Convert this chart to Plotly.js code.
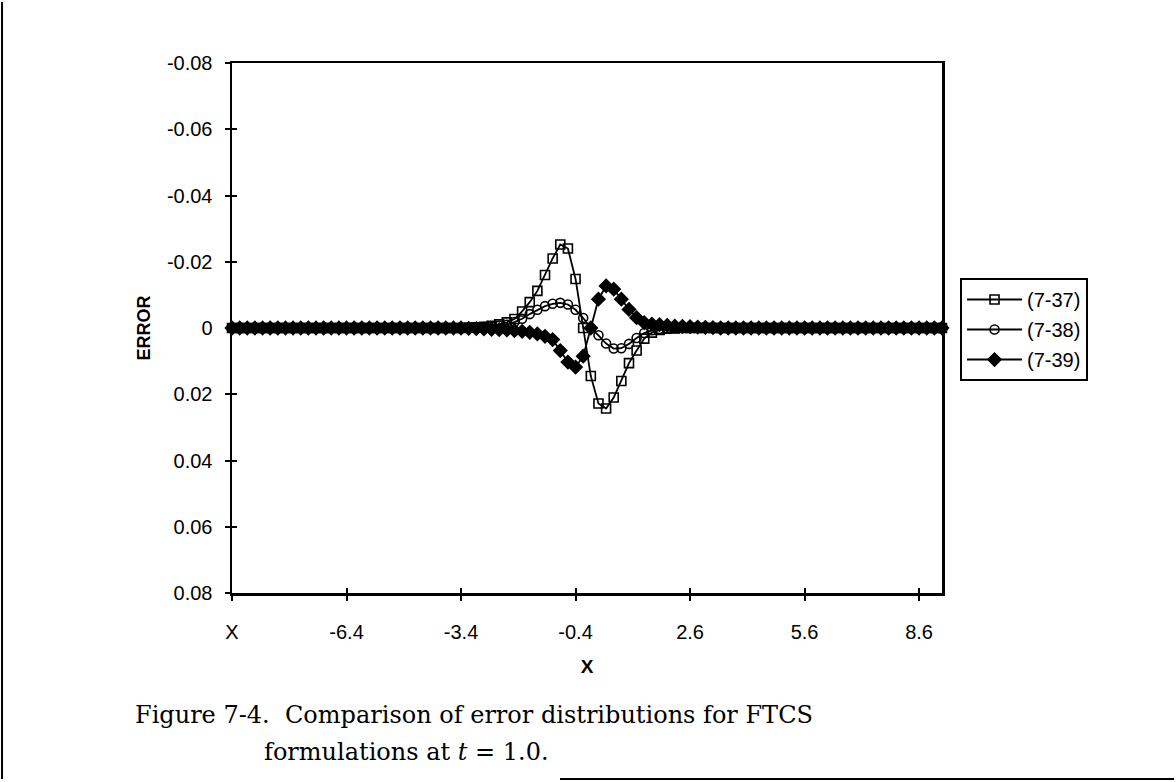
<!DOCTYPE html>
<html>
<head>
<meta charset="utf-8">
<script src="https://cdn.plot.ly/plotly-3.0.1.min.js"></script>
<style>html,body{margin:0;padding:0;background:#fff;}#chart{width:1176px;height:782px;}</style>
</head>
<body>
<div id="chart"></div>
<script>
// Category positions (first category is labelled "X")
const xVals = [-9.4,-9.2,-9.0,-8.8,-8.6,-8.4,-8.2,-8.0,-7.8,-7.6,-7.4,-7.2,-7.0,-6.8,-6.6,-6.4,-6.2,-6.0,-5.8,-5.6,
  -5.4,-5.2,-5.0,-4.8,-4.6,-4.4,-4.2,-4.0,-3.8,-3.6,-3.4,-3.2,-3.0,-2.8,-2.6,-2.4,-2.2,-2.0,-1.8,-1.6,
  -1.4,-1.2,-1.0,-0.8,-0.6,-0.4,-0.2,0.0,0.2,0.4,0.6,0.8,1.0,1.2,1.4,1.6,1.8,2.0,2.2,2.4,
  2.6,2.8,3.0,3.2,3.4,3.6,3.8,4.0,4.2,4.4,4.6,4.8,5.0,5.2,5.4,5.6,5.8,6.0,6.2,6.4,
  6.6,6.8,7.0,7.2,7.4,7.6,7.8,8.0,8.2,8.4,8.6,8.8,9.0,9.2];

const seriesNames = ["(7-37)", "(7-38)", "(7-39)"];

// (7-37)
const err737 = [0,0,0,0,0,0,0,0,0,0,0,0,0,0,0,0,0,0,0,0,
  0,0,0,0,0,0,0,0,0,0,0,-0.0001,-0.0002,-0.0004,-0.0007,-0.0011,-0.0017,-0.0027,-0.0050,-0.0078,
  -0.0112,-0.0160,-0.0210,-0.0252,-0.0240,-0.0148,0.0000,0.0145,0.0228,0.0243,0.0210,0.0160,0.0106,0.0068,0.0032,0.0014,0.0006,0.0002,0.0001,0,
  0,0,0,0,0,0,0,0,0,0,0,0,0,0,0,0,0,0,0,0,
  0,0,0,0,0,0,0,0,0,0,0,0,0,0];

// (7-38)
const err738 = [0,0,0,0,0,0,0,0,0,0,0,0,0,0,0,0,0,0,0,0,
  0,0,0,0,0,0,0,0,0,0,0,0,0,-0.0002,-0.0004,-0.0007,-0.0010,-0.0018,-0.0028,-0.0042,
  -0.0055,-0.0066,-0.0073,-0.0076,-0.0071,-0.0055,-0.0030,0.0000,0.0022,0.0047,0.0062,0.0061,0.0048,0.0030,0.0015,0.0007,0.0003,0.0001,0,0,
  0,0,0,0,0,0,0,0,0,0,0,0,0,0,0,0,0,0,0,0,
  0,0,0,0,0,0,0,0,0,0,0,0,0,0];

// (7-39)
const err739 = [0,0,0,0,0,0,0,0,0,0,0,0,0,0,0,0,0,0,0,0,
  0,0,0,0,0,0,0,0,0,0,0,0.0001,0.0002,0.0003,0.0004,0.0005,0.0006,0.0008,0.0010,0.0013,
  0.0018,0.0025,0.0035,0.0068,0.0103,0.0118,0.0085,0.0000,-0.0087,-0.0127,-0.0117,-0.0087,-0.0056,-0.0031,-0.0016,-0.0012,-0.0010,-0.0008,-0.0006,-0.0005,
  -0.0004,-0.0003,-0.0002,-0.0001,0,0,0,0,0,0,0,0,0,0,0,0,0,0,0,0,
  0,0,0,0,0,0,0,0,0,0,0,0,0,0];

const xTickVals = [-9.4,-6.4,-3.4,-0.4,2.6,5.6,8.6];
const xTickText = ["X","-6.4","-3.4","-0.4","2.6","5.6","8.6"];
const yTickVals = [-0.08,-0.06,-0.04,-0.02,0,0.02,0.04,0.06,0.08];
const yTickText = ["-0.08","-0.06","-0.04","-0.02","0","0.02","0.04","0.06","0.08"];

const sans = "Liberation Sans, Arial, sans-serif";
const serif = "DejaVu Serif, Liberation Serif, serif";

const mk = (y, name, symbol, size, group) => ({
  x: xVals, y: y, name: name, type: "scatter", mode: "lines+markers",
  legendgroup: group,
  line: {color: "#000", width: 1.8},
  marker: {symbol: symbol, size: size, color: "#000", line: {color: "#000", width: 1.6}},
  xaxis: "x", yaxis: "y", cliponaxis: false
});

const traces = [
  mk(err737, seriesNames[0], "square-open", 9, "a"),
  mk(err738, seriesNames[1], "circle-open", 9, "b"),
  mk(err739, seriesNames[2], "diamond", 10, "c"),
  {x: [], y: [], xaxis: "x2", yaxis: "y2", showlegend: false, type: "scatter", mode: "markers"}
];

const axCommon = {
  showgrid: false, zeroline: false, showline: true, linecolor: "#000", linewidth: 2.5,
  ticks: "outside", ticklen: 5, tickwidth: 2, tickcolor: "#000",
  tickfont: {family: sans, size: 20, color: "#000"}
};

const layout = {
  width: 1176, height: 782,
  paper_bgcolor: "#fff", plot_bgcolor: "#fff",
  margin: {l: 232, r: 234, t: 63, b: 189},
  showlegend: true,
  legend: {
    x: 1.0254, y: 0.5943, xanchor: "left", yanchor: "top",
    bordercolor: "#000", borderwidth: 2, bgcolor: "#fff",
    font: {family: sans, size: 20, color: "#000"},
    itemwidth: 55, traceorder: "grouped", tracegroupgap: 1
  },
  xaxis: Object.assign({}, axCommon, {
    range: [-9.4, 9.2], autorange: false, mirror: true,
    tickmode: "array", tickvals: xTickVals, ticktext: xTickText,
    ticklabelstandoff: 14,
    title: {text: "<b>X</b>", font: {family: sans, size: 19, color: "#000"}, standoff: 18}
  }),
  yaxis: Object.assign({}, axCommon, {
    range: [0.08, -0.08], autorange: false, mirror: true,
    tickmode: "array", tickvals: yTickVals, ticktext: yTickText,
    ticklabelstandoff: 8,
    title: {text: "<b>ERROR</b>", font: {family: sans, size: 18, color: "#000"}, standoff: 12}
  }),
  xaxis2: {
    overlaying: "x", anchor: "y2", range: [-9.4, 9.2], autorange: false,
    showgrid: false, zeroline: false, showline: false, showticklabels: false,
    ticks: "inside", ticklen: 5, tickwidth: 2, tickcolor: "#000",
    tickmode: "array", tickvals: xTickVals
  },
  yaxis2: {
    overlaying: "y", anchor: "x2", range: [0.08, -0.08], autorange: false,
    showgrid: false, zeroline: false, showline: false, showticklabels: false,
    ticks: "inside", ticklen: 5, tickwidth: 2, tickcolor: "#000",
    tickmode: "array", tickvals: yTickVals
  },
  annotations: [
    {xref: "paper", yref: "paper", x: -0.1394, y: -0.2302, xanchor: "left", yanchor: "middle",
     showarrow: false, text: "Figure 7-4.  Comparison of error distributions for FTCS",
     font: {family: serif, size: 24, color: "#000"}},
    {xref: "paper", yref: "paper", x: 0.04225, y: -0.30, xanchor: "left", yanchor: "middle",
     showarrow: false, text: "formulations at <i>t</i> = 1.0.",
     font: {family: serif, size: 24, color: "#000"}}
  ],
  shapes: [
    {type: "line", xref: "paper", yref: "paper", x0: -0.3239, x1: -0.3239, y0: 1.1151, y1: -0.3509, line: {color: "#000", width: 2}},
    {type: "line", xref: "paper", yref: "paper", x0: 0.462, x1: 1.3268, y0: -0.3509, y1: -0.3509, line: {color: "#000", width: 2}}
  ]
};

Plotly.newPlot("chart", traces, layout, {displayModeBar: false, staticPlot: true});
</script>
</body>
</html>
